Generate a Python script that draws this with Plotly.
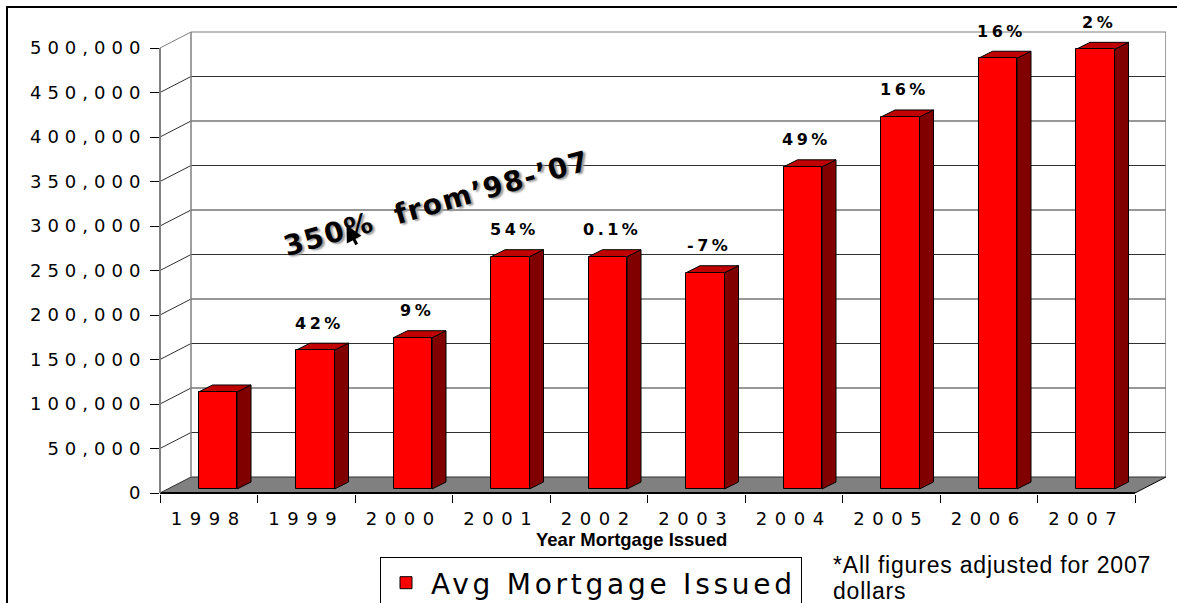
import plotly.graph_objects as go

# ---------------- data ----------------
years = ["1998", "1999", "2000", "2001", "2002", "2003", "2004", "2005", "2006", "2007"]
avg_mortgage = [109000, 156000, 170000, 261000, 261000, 243000, 362000, 418000, 484000, 494000]
pct_change = ["", "42%", "9%", "54%", "0.1%", "-7%", "49%", "16%", "16%", "2%"]
y_tick_values = [0, 50000, 100000, 150000, 200000, 250000, 300000, 350000, 400000, 450000, 500000]
y_tick_labels = ["0", "50,000", "100,000", "150,000", "200,000", "250,000",
                 "300,000", "350,000", "400,000", "450,000", "500,000"]
series_name = "Avg Mortgage Issued"
x_title = "Year Mortgage Issued"
callout_text = "350%\u00a0 from\u201998-\u201907"
footnote_lines = ["*All figures adjusted for 2007", "dollars"]

# ---------------- geometry (pixels -> axis units) ----------------
W, H = 1177, 603
ML, MR, MT, MB = 160, 11, 28, 109
PW, PH = W - ML - MR, H - MT - MB
n = len(years)
DEPTH_PX_X, DEPTH_PX_Y = 31, 16
PX_PER_CAT = (PW - DEPTH_PX_X) / n
Y_TOP = y_tick_values[-1]
PX_PER_VAL = 445 / Y_TOP
FLOOR_PX = 493
Y_LO = -((H - MB) - FLOOR_PX) / PX_PER_VAL
Y_HI = Y_LO + PH / PX_PER_VAL
X_LO = -0.5
X_FR = n - 0.5
DX = DEPTH_PX_X / PX_PER_CAT
DY = DEPTH_PX_Y / PX_PER_VAL
X_HI = X_FR + DX

BAR_W = 38.5 / PX_PER_CAT
BAR_SHIFT = 9 / PX_PER_CAT
BAR_BASE = 4 / PX_PER_VAL
SIDE_DX = 14 / PX_PER_CAT
SIDE_DY = 7 / PX_PER_VAL


def px_x(px):
    return (px - ML) / PW


def px_y(py):
    return (H - MB - py) / PH


def val_paper_y(v):
    return (v - Y_LO) / (Y_HI - Y_LO)


def spaced(text, px):
    return f'<span style="letter-spacing:{px}px">{text}</span>'


shapes = []


def seg(x0, y0, x1, y1, color, width):
    shapes.append(dict(type="line", xref="x", yref="y", x0=x0, y0=y0, x1=x1, y1=y1,
                       line=dict(color=color, width=width), layer="below"))


def poly(pts, fill, lcolor="black", lwidth=1):
    path = "M" + "L".join(f"{x},{y}" for x, y in pts) + "Z"
    shapes.append(dict(type="path", xref="x", yref="y", path=path, fillcolor=fill,
                       line=dict(color=lcolor, width=lwidth), layer="below"))


# floor
poly([(X_LO, 0), (X_FR, 0), (X_FR + DX, DY), (X_LO + DX, DY)], "#808080", "rgba(0,0,0,0)", 0)
# walls: gridlines
for v in y_tick_values:
    c = "#7f7f7f" if v == Y_TOP else "#303030"
    seg(X_LO, v, X_LO + DX, v + DY, c, 1)
    seg(X_LO + DX, v + DY, X_FR + DX, v + DY, c, 1)
seg(X_LO + DX, DY, X_LO + DX, Y_TOP + DY, "#7f7f7f", 1.5)
seg(X_FR + DX, DY, X_FR + DX, Y_TOP + DY, "#7f7f7f", 1.5)
# floor edges
seg(X_FR, 0, X_FR + DX, DY, "black", 1)
seg(X_LO, 0, X_FR, 0, "black", 2)

# bar side and top faces
for i, v in enumerate(avg_mortgage):
    xl = i + BAR_SHIFT - BAR_W / 2
    xr = xl + BAR_W
    b = BAR_BASE
    t = BAR_BASE + v
    poly([(xr, b), (xr + SIDE_DX, b + SIDE_DY), (xr + SIDE_DX, t + SIDE_DY), (xr, t)], "#800000")
    poly([(xl, t), (xl + SIDE_DX, t + SIDE_DY), (xr + SIDE_DX, t + SIDE_DY), (xr, t)], "#C00000")

# front value axis line
shapes.append(dict(type="line", xref="paper", yref="paper", x0=0, x1=0,
                   y0=val_paper_y(0), y1=val_paper_y(Y_TOP),
                   line=dict(color="#808080", width=2), layer="above"))
# outer chart frame
shapes.append(dict(type="rect", xref="paper", yref="paper",
                   x0=px_x(7), x1=px_x(W + 5), y0=px_y(H + 5), y1=px_y(7),
                   line=dict(color="black", width=2), fillcolor="rgba(0,0,0,0)", layer="above"))

fig = go.Figure()
fig.add_trace(go.Bar(
    x=list(range(n)), y=avg_mortgage, base=[BAR_BASE] * n,
    width=BAR_W, offset=BAR_SHIFT - BAR_W / 2,
    marker=dict(color="#FF0000", line=dict(color="black", width=1)),
    name=spaced(series_name, 3.75), showlegend=True,
))

annotations = []
for i, (v, t) in enumerate(zip(avg_mortgage, pct_change)):
    if not t:
        continue
    annotations.append(dict(
        x=i + BAR_SHIFT + 0.04, y=BAR_BASE + v, xref="x", yref="y", yshift=27,
        text=spaced(t, 3.5), showarrow=False, xanchor="center", yanchor="middle",
        font=dict(family="DejaVu Sans", size=16, color="black", weight=700),
    ))

annotations.append(dict(
    x=px_x(436), y=px_y(203), xref="paper", yref="paper", text=spaced(callout_text, 1.5),
    textangle=-16, showarrow=False, xanchor="center", yanchor="middle",
    font=dict(family="DejaVu Sans", size=28, color="black", weight=700,
              shadow="2px 2px 2px #9a9a9a"),
))
# mouse-cursor arrow visible in the picture
annotations.append(dict(
    x=px_x(346.5), y=px_y(225), xref="paper", yref="paper", text="",
    showarrow=True, ax=11, ay=21, arrowhead=2, arrowsize=1.1, arrowwidth=3, arrowcolor="black",
))
annotations.append(dict(
    x=px_x(631), y=px_y(539), xref="paper", yref="paper", text=x_title, showarrow=False,
    xanchor="center", yanchor="middle",
    font=dict(family="Liberation Sans", size=18.5, color="black", weight=700),
))
for k, line_txt in enumerate(footnote_lines):
    annotations.append(dict(
        x=px_x(832), y=px_y(565 + 26 * k), xref="paper", yref="paper",
        text=spaced(line_txt, 0.8), borderpad=0,
        showarrow=False, xanchor="left", yanchor="middle",
        font=dict(family="Liberation Sans", size=23, color="black"),
    ))

fig.update_layout(
    width=W, height=H,
    margin=dict(l=ML, r=MR, t=MT, b=MB, autoexpand=False),
    plot_bgcolor="white", paper_bgcolor="white",
    shapes=shapes, annotations=annotations,
    bargap=0,
    showlegend=True,
    legend=dict(x=px_x(380), y=px_y(557), xanchor="left", yanchor="top",
                bordercolor="black", borderwidth=1, bgcolor="white", itemwidth=40,
                font=dict(family="DejaVu Sans", size=28, color="black")),
    xaxis=dict(
        range=[X_LO, X_HI], showgrid=False, zeroline=False, showline=False,
        tickmode="array", tickvals=list(range(n)), ticktext=[spaced(y, 7.5) for y in years],
        ticks="", ticklabelstandoff=12,
        tickfont=dict(family="DejaVu Sans", size=18, color="black"),
        minor=dict(tickmode="array", tickvals=[i - 0.5 for i in range(n + 1)],
                   ticks="outside", ticklen=8, tickcolor="black", tickwidth=1, showgrid=False),
        fixedrange=True,
    ),
    yaxis=dict(
        range=[Y_LO, Y_HI], showgrid=False, zeroline=False, showline=False,
        tickmode="array", tickvals=y_tick_values, ticktext=[spaced(t, 6) for t in y_tick_labels],
        ticks="outside", ticklen=9, tickcolor="black", tickwidth=1,
        tickfont=dict(family="DejaVu Sans", size=18, color="black"),
        fixedrange=True,
    ),
)

fig.write_html("out.html", config={"displayModeBar": False},
               post_script="document.body.style.margin='0';")
